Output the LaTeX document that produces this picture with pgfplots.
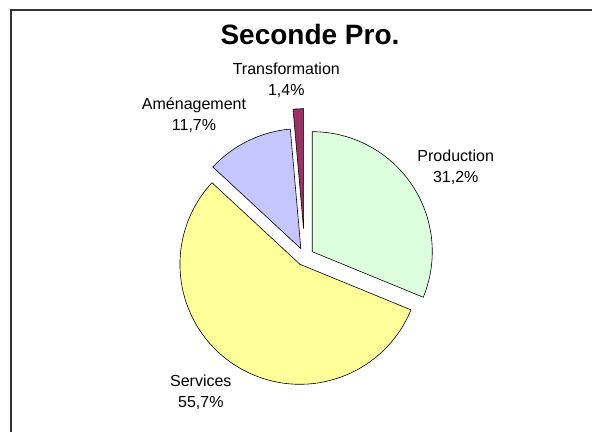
\documentclass[border=0pt]{standalone}
\usepackage{fontspec}
\setmainfont{Liberation Sans}
\usepackage{pgfplots}
\pgfplotsset{compat=1.18}
\usepackage{pgfplotstable}
\usetikzlibrary{calc}

\definecolor{colProd}{HTML}{DEFFDE}
\definecolor{colServ}{HTML}{FFFF99}
\definecolor{colAmen}{HTML}{C6C6FF}
\definecolor{colTrans}{HTML}{993366}

% share in %, explode offset in px
\pgfplotstableread[col sep=comma]{
label,value,explode
Production,31.2,9
Services,55.7,9
Amenagement,11.7,9
Transformation,1.4,28
}\piedata

% angles, clockwise from 12 o'clock like Excel
\pgfplotstablegetelem{0}{value}\of\piedata\pgfmathsetmacro\aP{90}\pgfmathsetmacro\bP{\aP-3.6*\pgfplotsretval}%
\pgfplotstablegetelem{1}{value}\of\piedata\pgfmathsetmacro\aS{\bP}\pgfmathsetmacro\bS{\aS-3.6*\pgfplotsretval}%
\pgfplotstablegetelem{2}{value}\of\piedata\pgfmathsetmacro\aA{\bS}\pgfmathsetmacro\bA{\aA-3.6*\pgfplotsretval}%
\pgfplotstablegetelem{3}{value}\of\piedata\pgfmathsetmacro\aT{\bA}\pgfmathsetmacro\bT{\aT-3.6*\pgfplotsretval}%
\pgfplotstablegetelem{0}{explode}\of\piedata\let\eP\pgfplotsretval
\pgfplotstablegetelem{1}{explode}\of\piedata\let\eS\pgfplotsretval
\pgfplotstablegetelem{2}{explode}\of\piedata\let\eA\pgfplotsretval
\pgfplotstablegetelem{3}{explode}\of\piedata\let\eT\pgfplotsretval

\def\cx{304.8}\def\cy{175.3}\def\R{120}
\newcommand\slice[4]{%
  \draw[#4] ($(axis cs:\cx,\cy)+({(#1+#2)/2}:#3pt)$) -- ++(#1:\R pt)
    arc[start angle=#1, end angle=#2, radius=\R pt] -- cycle;}

\begin{document}
\begin{tikzpicture}
\useasboundingbox (0,0) rectangle (592pt,432pt);
\begin{axis}[
  at={(0,0)}, anchor=south west,
  width=592pt, height=432pt, scale only axis,
  xmin=0, xmax=592, ymin=0, ymax=432,
  hide axis, clip=false,
]
% frame (only top and left edges are inside the picture)
\draw[line width=1.2pt, black!80] (axis cs:11,0) -- (axis cs:11,422) -- (axis cs:592,422);

\node[anchor=base, font=\fontsize{28}{30}\selectfont\bfseries] at (axis cs:310,387.7) {Seconde Pro.};

\slice{\aP}{\bP}{\eP}{line width=0.6pt, fill=colProd}
\slice{\aS}{\bS}{\eS}{line width=0.6pt, fill=colServ}
\slice{\aA}{\bA}{\eA}{line width=0.6pt, fill=colAmen}
\slice{\aT}{\bT}{\eT}{line width=0.6pt, fill=colTrans}

\tikzset{lbl/.style={align=center, font=\fontsize{16}{21}\selectfont}}
\node[lbl] at (axis cs:455.7,264.5) {Production\\31,2\%};
\node[lbl] at (axis cs:200.8,40) {Services\\55,7\%};
\node[lbl] at (axis cs:194,317) {Aménagement\\11,7\%};
\node[lbl] at (axis cs:286.3,352) {Transformation\\1,4\%};
\end{axis}
\end{tikzpicture}
\end{document}
